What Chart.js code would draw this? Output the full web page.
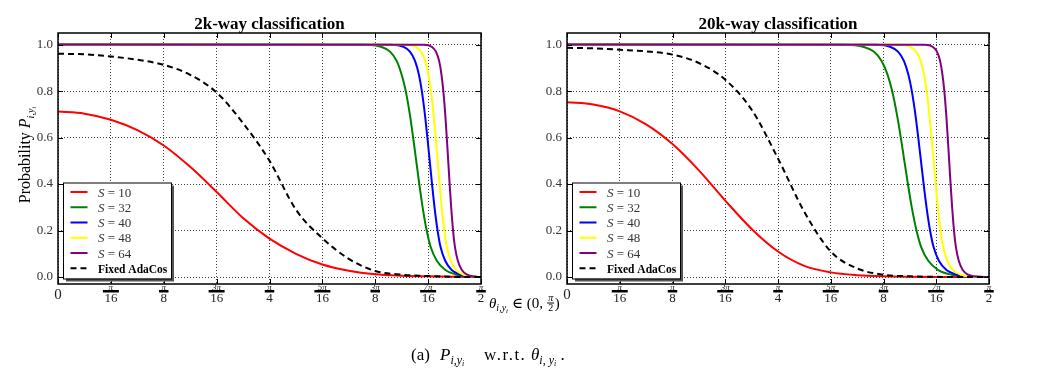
<!DOCTYPE html>
<html>
<head>
<meta charset="utf-8">
<title>P vs theta</title>
<script src="https://cdn.jsdelivr.net/npm/chart.js@4.4.1/dist/chart.umd.min.js"></script>
<style>
    html, body { margin: 0; padding: 0; background: #fff; }
    #wrap { position: relative; width: 1058px; height: 372px; }
    #wrap canvas { position: absolute; left: 0; top: 0; }
</style>
</head>
<body>
<div id="wrap">
    <canvas id="chart-2k" width="1058" height="372"></canvas>
    <canvas id="chart-20k" width="1058" height="372"></canvas>
</div>
<script>
// x values are in multiples of pi/16
var thetaTicks = [0, 1, 2, 3, 4, 5, 6, 7, 8];
var tickNum = ['0', 'π', 'π', '3π', 'π', '5π', '3π', '7π', 'π'];
var tickDen = ['', '16', '8', '16', '4', '16', '8', '16', '2'];
var probTicks = [0, 0.2, 0.4, 0.6, 0.8, 1.0];

var legendScales = [10, 32, 40, 48, 64];
var seriesColors = ['#ff0000', '#008000', '#0000ff', '#ffff00', '#800080'];

// S=10 and Fixed AdaCos, read every pi/32
var thetaSmooth = [0, 0.5, 1, 1.5, 2, 2.5, 3, 3.5, 4, 4.5, 5, 5.5, 6, 6.5, 7, 7.5, 8];
var prob2kS10 = [0.712, 0.703, 0.677, 0.632, 0.566, 0.474, 0.366, 0.254, 0.165, 0.100, 0.054, 0.027, 0.012, 0.006, 0.003, 0.001, 0.000];
var prob2kAdaCos = [0.961, 0.958, 0.949, 0.935, 0.913, 0.870, 0.794, 0.662, 0.500, 0.290, 0.167, 0.078, 0.026, 0.010, 0.004, 0.001, 0.000];
var prob20kS10 = [0.752, 0.742, 0.713, 0.657, 0.572, 0.459, 0.329, 0.207, 0.110, 0.048, 0.020, 0.008, 0.003, 0.001, 0.000, 0.000, 0.000];
var prob20kAdaCos = [0.986, 0.984, 0.978, 0.971, 0.957, 0.921, 0.849, 0.720, 0.510, 0.280, 0.110, 0.037, 0.010, 0.003, 0.001, 0.000, 0.000];

// steep curves: angle where each probability level is crossed
var steepLevels = [1.0, 0.999, 0.99, 0.97, 0.93, 0.87, 0.8, 0.7, 0.6, 0.5, 0.4, 0.3, 0.2, 0.13, 0.07, 0.03, 0.01, 0.002, 0.0];
var theta2kS32 = [0, 5.79, 6.12, 6.28, 6.405, 6.50, 6.577, 6.654, 6.717, 6.775, 6.833, 6.896, 6.973, 7.047, 7.164, 7.327, 7.547, 7.819, 8];
var theta2kS40 = [0, 6.29, 6.536, 6.656, 6.752, 6.826, 6.881, 6.939, 6.986, 7.03, 7.074, 7.121, 7.179, 7.234, 7.323, 7.445, 7.611, 7.816, 8];
var theta2kS48 = [0, 6.552, 6.762, 6.864, 6.945, 7.007, 7.054, 7.103, 7.143, 7.18, 7.217, 7.257, 7.306, 7.353, 7.428, 7.531, 7.671, 7.844, 8];
var theta2kS64 = [0, 6.92, 7.074, 7.148, 7.208, 7.253, 7.288, 7.324, 7.353, 7.38, 7.407, 7.436, 7.472, 7.507, 7.562, 7.637, 7.74, 7.867, 8];
var theta20kS32 = [0, 5.244, 5.629, 5.816, 5.964, 6.078, 6.164, 6.254, 6.328, 6.395, 6.463, 6.536, 6.626, 6.712, 6.849, 7.039, 7.296, 7.613, 8];
var theta20kS40 = [0, 5.847, 6.136, 6.275, 6.387, 6.472, 6.537, 6.604, 6.659, 6.71, 6.761, 6.816, 6.883, 6.948, 7.05, 7.193, 7.386, 7.624, 8];
var theta20kS48 = [0, 6.292, 6.512, 6.619, 6.704, 6.769, 6.818, 6.869, 6.911, 6.95, 6.989, 7.031, 7.082, 7.131, 7.209, 7.318, 7.465, 7.646, 8];
var theta20kS64 = [0, 6.785, 6.939, 7.013, 7.073, 7.118, 7.153, 7.189, 7.218, 7.245, 7.272, 7.301, 7.337, 7.372, 7.427, 7.502, 7.605, 7.732, 8];

var SERIF = '"Liberation Serif", "DejaVu Serif", serif';

function setFont(ctx, size, style) {
    ctx.font = (style ? style + ' ' : '') + size + 'px ' + SERIF;
}

function toPoints(xs, ys) {
    return xs.map(function (x, i) { return { x: x, y: ys[i] }; });
}

function measurePart(ctx, p) {
    if (p.num) {
        setFont(ctx, p.size, 'italic');
        var a = ctx.measureText(p.num).width;
        setFont(ctx, p.size, '');
        var b = ctx.measureText(p.den).width;
        return Math.max(a, b) + 3;
    }
    setFont(ctx, p.size, p.style);
    return ctx.measureText(p.t).width;
}

// draws a row of text pieces (sub/superscripts, small fractions)
function drawRich(ctx, parts, x, y, align) {
    var total = 0;
    var widths = parts.map(function (p) {
        var w = measurePart(ctx, p);
        total += w;
        return w;
    });
    var cx = align === 'center' ? x - total / 2 : x;
    ctx.textBaseline = 'alphabetic';
    parts.forEach(function (p, i) {
        if (p.num) {
            var mid = cx + widths[i] / 2;
            ctx.textAlign = 'center';
            setFont(ctx, p.size, 'italic');
            ctx.fillText(p.num, mid, y - 7);
            ctx.fillRect(cx + 0.5, y - 5.5, widths[i] - 1, 1);
            setFont(ctx, p.size, '');
            ctx.fillText(p.den, mid, y + 3);
        } else {
            ctx.textAlign = 'left';
            setFont(ctx, p.size, p.style);
            ctx.fillText(p.t, cx, y + (p.dy || 0));
        }
        cx += widths[i];
    });
}

var panelDecor = {
    id: 'panelDecor',
    afterDatasetsDraw: function (chart) {
        var ctx = chart.ctx;
        var a = chart.chartArea;
        var xs = chart.scales.x;
        var ys = chart.scales.y;
        ctx.save();
        ctx.strokeStyle = '#000';
        ctx.lineWidth = 1;
        ctx.beginPath();
        thetaTicks.forEach(function (v) {
            var px = Math.round(xs.getPixelForValue(v)) + 0.5;
            ctx.moveTo(px, a.bottom);
            ctx.lineTo(px, a.bottom - 5);
            ctx.moveTo(px, a.top);
            ctx.lineTo(px, a.top + 5);
        });
        probTicks.forEach(function (v) {
            var py = Math.round(ys.getPixelForValue(v)) + 0.5;
            ctx.moveTo(a.left, py);
            ctx.lineTo(a.left + 5, py);
            ctx.moveTo(a.right, py);
            ctx.lineTo(a.right - 5, py);
        });
        ctx.stroke();
        ctx.lineWidth = 1.5;
        ctx.strokeRect(a.left, a.top, a.right - a.left, a.bottom - a.top);
        ctx.restore();
    },
    afterDraw: function (chart, args, opts) {
        var ctx = chart.ctx;
        var a = chart.chartArea;
        var xs = chart.scales.x;
        ctx.save();
        ctx.fillStyle = '#000';

        // title
        setFont(ctx, 17, 'bold');
        ctx.textAlign = 'center';
        ctx.textBaseline = 'middle';
        ctx.fillText(opts.title, (a.left + a.right) / 2, 25);

        // x tick labels as fractions of pi
        ctx.fillStyle = '#222';
        thetaTicks.forEach(function (v, i) {
            var px = xs.getPixelForValue(v);
            ctx.textAlign = 'center';
            ctx.textBaseline = 'middle';
            if (!tickDen[i]) {
                setFont(ctx, 15, '');
                ctx.fillText(tickNum[i], px, 295);
                return;
            }
            setFont(ctx, 9, 'italic');
            ctx.fillText(tickNum[i], px, 287.5);
            setFont(ctx, 13, '');
            var w = ctx.measureText(tickDen[i]).width + 3;
            ctx.fillStyle = '#000';
            ctx.fillRect(px - w / 2, 290, w, 2.5);
            ctx.fillStyle = '#222';
            ctx.fillText(tickDen[i], px, 298.5);
        });

        // legend
        var bx = a.left + 5, by = 182.5, bw = 108, bh = 96;
        ctx.fillStyle = '#555';
        ctx.fillRect(bx + 3, by + 3, bw, bh);
        ctx.fillStyle = '#fff';
        ctx.fillRect(bx, by, bw, bh);
        ctx.strokeStyle = '#000';
        ctx.lineWidth = 1;
        ctx.strokeRect(bx + 0.5, by + 0.5, bw, bh);
        for (var i = 0; i < 6; i++) {
            var ry = by + 9.5 + i * 15.25;
            ctx.beginPath();
            ctx.lineWidth = 2;
            if (i < 5) {
                ctx.strokeStyle = seriesColors[i];
                ctx.setLineDash([]);
            } else {
                ctx.strokeStyle = '#000';
                ctx.setLineDash([6, 4]);
            }
            ctx.moveTo(bx + 7.5, ry);
            ctx.lineTo(bx + 24.5, ry);
            ctx.stroke();
            ctx.setLineDash([]);
            if (i < 5) {
                ctx.fillStyle = '#333';
                drawRich(ctx, [
                    { t: 'S', size: 13, style: 'italic' },
                    { t: ' = ' + legendScales[i], size: 13, style: '' }
                ], bx + 35, ry + 4.5, 'left');
            } else {
                ctx.fillStyle = '#000';
                drawRich(ctx, [{ t: 'Fixed AdaCos', size: 11.5, style: 'bold' }], bx + 35, ry + 4.5, 'left');
            }
        }

        ctx.fillStyle = '#000';
        if (opts.extras) {
            // y axis title
            ctx.save();
            ctx.translate(30, 155);
            ctx.rotate(-Math.PI / 2);
            drawRich(ctx, [
                { t: 'Probability ', size: 16, style: '' },
                { t: 'P', size: 16, style: 'italic' },
                { t: 'i,y', size: 10, style: 'italic', dy: 4 },
                { t: 'i', size: 7, style: 'italic', dy: 6 }
            ], 0, 0, 'center');
            ctx.restore();

            // x axis title
            drawRich(ctx, [
                { t: 'θ', size: 15, style: 'italic' },
                { t: 'i,y', size: 10, style: 'italic', dy: 3 },
                { t: 'i', size: 7, style: 'italic', dy: 5 },
                { t: ' ∈ (0, ', size: 15, style: '' },
                { num: 'π', den: '2', size: 10 },
                { t: ')', size: 15, style: '' }
            ], 489, 308, 'left');

            // caption, in pieces
            drawRich(ctx, [{ t: '(a)', size: 17, style: '' }], 411, 360, 'left');
            drawRich(ctx, [
                { t: 'P', size: 17, style: 'italic' },
                { t: 'i,y', size: 12, style: 'italic', dy: 4 },
                { t: 'i', size: 8, style: 'italic', dy: 6 }
            ], 440, 360, 'left');
            ctx.save();
            ctx.letterSpacing = '1.5px';
            drawRich(ctx, [{ t: 'w.r.t.', size: 17, style: '' }], 484, 360, 'left');
            ctx.restore();
            drawRich(ctx, [
                { t: 'θ', size: 17, style: 'italic' },
                { t: 'i', size: 12, style: 'italic', dy: 4 },
                { t: ', ', size: 12, style: '', dy: 4 },
                { t: 'y', size: 12, style: 'italic', dy: 4 },
                { t: 'i', size: 8, style: 'italic', dy: 6 },
                { t: ' .', size: 17, style: '' }
            ], 531, 360, 'left');
        }
        ctx.restore();
    }
};

function lineSet(xs, ys, color, order, dashed) {
    return {
        data: toPoints(xs, ys),
        borderColor: color,
        borderWidth: 2,
        borderDash: dashed ? [6, 4] : [],
        pointRadius: 0,
        fill: false,
        cubicInterpolationMode: 'monotone',
        order: order
    };
}

function buildPanel(canvasId, panel) {
    var canvas = document.getElementById(canvasId);
    return new Chart(canvas, {
        type: 'line',
        data: {
            datasets: [
                lineSet(thetaSmooth, panel.s10, seriesColors[0], 6),
                lineSet(panel.s32x, steepLevels, seriesColors[1], 5),
                lineSet(panel.s40x, steepLevels, seriesColors[2], 4),
                lineSet(panel.s48x, steepLevels, seriesColors[3], 3),
                lineSet(panel.s64x, steepLevels, seriesColors[4], 2),
                lineSet(thetaSmooth, panel.adacos, '#000', 1, true)
            ]
        },
        options: {
            responsive: false,
            devicePixelRatio: 1,
            animation: false,
            events: [],
            layout: {
                padding: { left: panel.padLeft, right: panel.padRight, top: 33, bottom: 0 }
            },
            plugins: {
                legend: { display: false },
                tooltip: { enabled: false },
                title: { display: false },
                panelDecor: { title: panel.title, extras: panel.extras }
            },
            scales: {
                x: {
                    type: 'linear',
                    min: 0,
                    max: 8,
                    afterBuildTicks: function (scale) {
                        scale.ticks = thetaTicks.map(function (v) { return { value: v }; });
                    },
                    afterFit: function (scale) { scale.height = 88; },
                    ticks: { display: false },
                    grid: { color: 'rgba(0,0,0,0.75)', lineWidth: 1, drawTicks: false },
                    border: { display: false, dash: [1, 2] }
                },
                y: {
                    type: 'linear',
                    min: -0.03,
                    max: 1.05,
                    afterBuildTicks: function (scale) {
                        scale.ticks = probTicks.map(function (v) { return { value: v }; });
                    },
                    afterFit: function (scale) { scale.width = panel.axisWidth; },
                    ticks: {
                        padding: 5,
                        color: '#333',
                        font: { family: SERIF, size: 13 },
                        callback: function (v) { return Number(v).toFixed(1); }
                    },
                    grid: { color: 'rgba(0,0,0,0.75)', lineWidth: 1, drawTicks: false },
                    border: { display: false, dash: [1, 2] }
                }
            }
        },
        plugins: [panelDecor]
    });
}

buildPanel('chart-2k', {
    title: '2k-way classification',
    extras: true,
    padLeft: 0,
    padRight: 577,
    axisWidth: 58,
    s10: prob2kS10,
    adacos: prob2kAdaCos,
    s32x: theta2kS32,
    s40x: theta2kS40,
    s48x: theta2kS48,
    s64x: theta2kS64
});

buildPanel('chart-20k', {
    title: '20k-way classification',
    extras: false,
    padLeft: 510,
    padRight: 69,
    axisWidth: 57,
    s10: prob20kS10,
    adacos: prob20kAdaCos,
    s32x: theta20kS32,
    s40x: theta20kS40,
    s48x: theta20kS48,
    s64x: theta20kS64
});
</script>
</body>
</html>
